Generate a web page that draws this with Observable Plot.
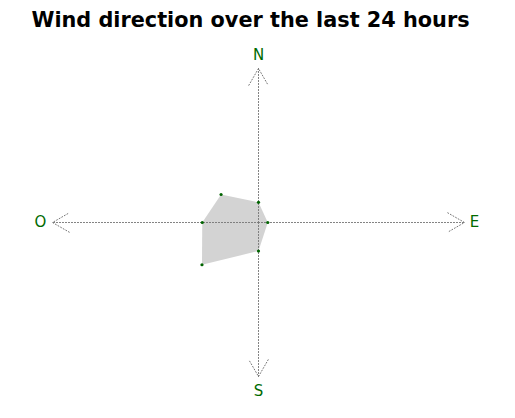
<!DOCTYPE html>
<html>
<head>
<meta charset="utf-8">
<script src="https://cdn.jsdelivr.net/npm/d3@7"></script>
<script src="https://cdn.jsdelivr.net/npm/@observablehq/plot@0.6"></script>
<style>
  html, body { margin: 0; padding: 0; background: #fff; }
  #title { height: 40px; text-align: center; font: bold 20.8px "DejaVu Sans", sans-serif; line-height: 40px; color: #000; padding-right: 14px; }
  #chart svg { display: block; }
</style>
</head>
<body>
<div id="title">Wind direction over the last 24 hours</div>
<div id="chart"></div>
<script>
// Directions (compass angle in degrees) and observed values (share of the axis length)
const directions = ["N", "E", "S", "SO", "O", "NO"];
const angles = [0, 90, 180, 225, 270, 315];
const values = [0.131, 0.045, 0.185, 0.388, 0.273, 0.257];

// Cardinal axes
const axisLabels = ["N", "E", "S", "O"];
const axisAngles = [0, 90, 180, 270];
const axisLength = 1;

const rad = a => a * Math.PI / 180;
const points = directions.map((d, i) => ({
  dir: d,
  x: values[i] * Math.sin(rad(angles[i])),
  y: values[i] * Math.cos(rad(angles[i]))
}));
const axes = axisLabels.map((l, i) => ({
  label: l,
  x: axisLength * Math.sin(rad(axisAngles[i])),
  y: axisLength * Math.cos(rad(axisAngles[i]))
}));

const labelColor = "#006a00";
const plot = Plot.plot({
  width: 515,
  height: 378,
  marginLeft: 52,
  marginRight: 51,
  marginTop: 28,
  marginBottom: 42,
  x: { domain: [-1, 1], axis: null },
  y: { domain: [-1, 1], axis: null },
  style: { fontFamily: "DejaVu Sans, sans-serif", background: "#fff" },
  marks: [
    Plot.line(points, { x: "x", y: "y", curve: "linear-closed", fill: "#d3d3d3", stroke: "none" }),
    Plot.arrow(axes, {
      x1: 0, y1: 0, x2: "x", y2: "y",
      stroke: "#777", strokeWidth: 1, strokeDasharray: "1,2",
      headLength: 29, headAngle: 60
    }),
    Plot.dot(points, { x: "x", y: "y", r: 1.6, fill: "#006400", stroke: "none" }),
    Plot.text(axes.filter(d => d.label === "N"), { x: "x", y: "y", text: "label", dy: -13, fill: labelColor, fontSize: 15 }),
    Plot.text(axes.filter(d => d.label === "S"), { x: "x", y: "y", text: "label", dy: 15, fill: labelColor, fontSize: 15 }),
    Plot.text(axes.filter(d => d.label === "E"), { x: "x", y: "y", text: "label", dx: 10, fill: labelColor, fontSize: 15 }),
    Plot.text(axes.filter(d => d.label === "O"), { x: "x", y: "y", text: "label", dx: -12, fill: labelColor, fontSize: 15 })
  ]
});
document.getElementById("chart").appendChild(plot);
</script>
</body>
</html>
